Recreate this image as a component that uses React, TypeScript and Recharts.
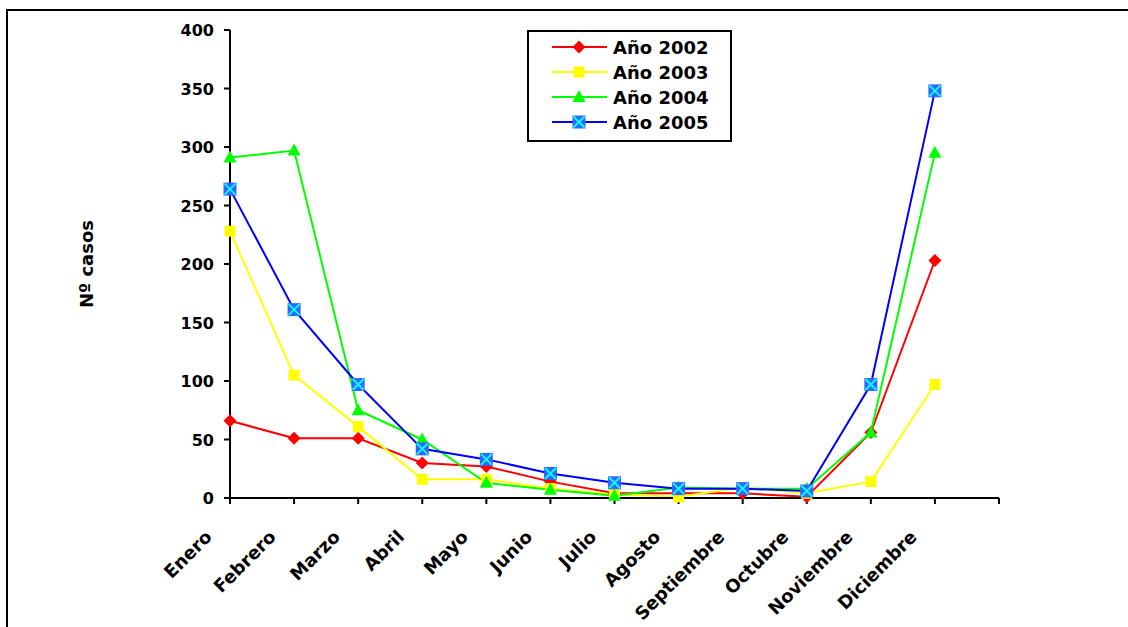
import React from 'react';
import { LineChart, Line, XAxis, YAxis, Label } from 'recharts';

const months = ['Enero', 'Febrero', 'Marzo', 'Abril', 'Mayo', 'Junio', 'Julio', 'Agosto', 'Septiembre', 'Octubre', 'Noviembre', 'Diciembre'];
const y2002 = [66, 51, 51, 30, 27, 14, 4, 4, 4, 1, 56, 203];
const y2003 = [228, 105, 61, 16, 16, 8, 3, 1, 9, 4, 14, 97];
const y2004 = [291, 297, 75, 50, 13, 7, 2, 9, 8, 8, 56, 295];
const y2005 = [264, 161, 97, 42, 33, 21, 13, 8, 8, 6, 97, 348];
const yTicks = [0, 50, 100, 150, 200, 250, 300, 350, 400];
const xTicks = [0, 1, 2, 3, 4, 5, 6, 7, 8, 9, 10, 11, 12];
const seriesNames = ['Año 2002', 'Año 2003', 'Año 2004', 'Año 2005'];

const data = months.map((m, i) => ({
  idx: i,
  month: m,
  a2002: y2002[i],
  a2003: y2003[i],
  a2004: y2004[i],
  a2005: y2005[i],
}));

const FONT = '"DejaVu Sans", Verdana, sans-serif';

const Diamond = ({ cx, cy }: any) => (
  <polygon points={`${cx},${cy - 6.5} ${cx + 6.5},${cy} ${cx},${cy + 6.5} ${cx - 6.5},${cy}`} fill="#FF0000" stroke="none" />
);
const Square = ({ cx, cy }: any) => (
  <rect x={cx - 5.5} y={cy - 5.5} width={11} height={11} fill="#FFFF00" stroke="none" />
);
const Triangle = ({ cx, cy }: any) => (
  <polygon points={`${cx},${cy - 7} ${cx + 6.5},${cy + 5} ${cx - 6.5},${cy + 5}`} fill="#00FF00" stroke="none" />
);
const XSquare = ({ cx, cy }: any) => (
  <g>
    <rect x={cx - 6.5} y={cy - 6.5} width={13} height={13} fill="#3366FF" stroke="none" />
    <line x1={cx - 5.5} y1={cy - 5.5} x2={cx + 5.5} y2={cy + 5.5} stroke="#00FFFF" strokeWidth={2} />
    <line x1={cx - 5.5} y1={cy + 5.5} x2={cx + 5.5} y2={cy - 5.5} stroke="#00FFFF" strokeWidth={2} />
  </g>
);

const markers = [Diamond, Square, Triangle, XSquare];
const colors = ['#FF0000', '#FFFF00', '#00FF00', '#0000FF'];
const keys = ['a2002', 'a2003', 'a2004', 'a2005'];

const mkDot = (Comp: any) => (props: any) => {
  const { cx, cy, index } = props;
  if (cx == null || cy == null) return <g key={index} />;
  return <g key={index}><Comp cx={cx} cy={cy} /></g>;
};

const XTick = (props: any) => {
  const { x, y, payload } = props;
  const label = months[payload.value] ?? '';
  return (
    <g transform={`translate(${x - 17},${y + 28})`}>
      <text
        x={0}
        y={0}
        transform="rotate(-45)"
        textAnchor="end"
        fontFamily={FONT}
        fontWeight="bold"
        fontSize={18}
        fill="#000"
      >
        {label}
      </text>
    </g>
  );
};

const YTick = (props: any) => {
  const { x, y, payload } = props;
  return (
    <text x={x} y={y} dy={6} textAnchor="end" fontFamily={FONT} fontWeight="bold" fontSize={16} fill="#000">
      {payload.value}
    </text>
  );
};

const LegendBox = () => (
  <div
    style={{
      position: 'absolute',
      left: 527,
      top: 30,
      width: 201,
      height: 108,
      border: '2px solid #000',
      background: '#fff',
    }}
  >
    <svg width={201} height={108} style={{ display: 'block' }}>
      {seriesNames.map((n, i) => {
        const M = markers[i];
        const cy = 15 + i * 25;
        return (
          <g key={n}>
            <line x1={23} x2={78} y1={cy} y2={cy} stroke={colors[i]} strokeWidth={2} />
            <M cx={50} cy={cy} />
            <text x={84} y={cy + 6.5} fontFamily={FONT} fontWeight="bold" fontSize={18} fill="#000">
              {n}
            </text>
          </g>
        );
      })}
    </svg>
  </div>
);

export default function App() {
  return (
    <div style={{ position: 'absolute', left: 0, top: 0, width: 1128, height: 627, overflow: 'hidden', background: '#fff' }}>
      <div
        style={{
          position: 'absolute',
          left: 6,
          top: 9,
          width: 1200,
          height: 700,
          borderTop: '2px solid #000',
          borderLeft: '2px solid #000',
        }}
      />
      <div style={{ position: 'absolute', left: 0, top: 0 }}>
        <LineChart width={1128} height={627} data={data} margin={{ top: 30, right: 129, left: 0, bottom: 0 }}>
          <XAxis
            dataKey="idx"
            type="number"
            domain={[0, 12]}
            ticks={xTicks}
            interval={0}
            height={129}
            tick={<XTick />}
            tickSize={6}
            tickMargin={6}
            axisLine={{ stroke: '#000', strokeWidth: 2 }}
            tickLine={{ stroke: '#000', strokeWidth: 2 }}
          />
          <YAxis
            type="number"
            domain={[0, 400]}
            ticks={yTicks}
            interval={0}
            width={230}
            tick={<YTick />}
            tickSize={6}
            tickMargin={10}
            axisLine={{ stroke: '#000', strokeWidth: 2 }}
            tickLine={{ stroke: '#000', strokeWidth: 2 }}
          >
            <Label
              content={(p: any) => {
                const vb = p.viewBox || {};
                const cx = (vb.x ?? 0) + 86;
                const cy = (vb.y ?? 0) + (vb.height ?? 0) / 2;
                return (
                  <text
                    x={cx}
                    y={cy}
                    transform={`rotate(-90, ${cx}, ${cy})`}
                    textAnchor="middle"
                    dominantBaseline="central"
                    fontFamily={FONT}
                    fontWeight="bold"
                    fontSize={18}
                    fill="#000"
                  >
                    Nº casos
                  </text>
                );
              }}
            />
          </YAxis>
          {keys.map((k, i) => (
            <Line
              key={k}
              dataKey={k}
              name={seriesNames[i]}
              type="linear"
              stroke={colors[i]}
              strokeWidth={2}
              dot={mkDot(markers[i])}
              activeDot={false}
              isAnimationActive={false}
            />
          ))}
        </LineChart>
      </div>
      <LegendBox />
    </div>
  );
}
